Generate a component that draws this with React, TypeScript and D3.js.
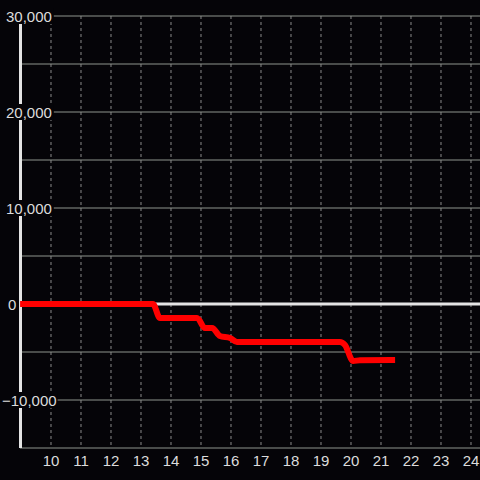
import React from "react";
import * as d3 from "d3";

const xs = [8.97, 13.4, 13.63, 14.87, 15.13, 15.37, 15.63, 15.97, 16.2, 19.63, 19.8, 20.07, 20.3, 21.47];
const values = [0, 0, -1460, -1460, -2500, -2500, -3330, -3540, -3960, -3960, -4270, -5940, -5850, -5830];
const xTicks = [10, 11, 12, 13, 14, 15, 16, 17, 18, 19, 20, 21, 22, 23, 24];
const yGrid = [30000, 25000, 20000, 15000, 10000, 5000, -5000, -10000, -15000];
const yLabels = [30000, 20000, 10000, 0, -10000];

const W = 480, H = 480;
const FONT = "'Liberation Sans', Arial, sans-serif";

export default function App() {
  const x = d3.scaleLinear().domain([8.9667, 24.3]).range([20, 480]);
  const y = d3.scaleLinear().domain([-15000, 30000]).range([448, 16]);
  const line = d3
    .line<number>()
    .x((_, i) => x(xs[i]))
    .y((d) => y(d))
    .curve(d3.curveMonotoneX);
  const fmt = d3.format(",");
  return (
    <svg
      width={W}
      height={H}
      style={{ position: "absolute", left: 0, top: 0, background: "#050408" }}
    >
      <rect x={0} y={0} width={W} height={H} fill="#050408" />
      {xTicks.map((t) => (
        <line
          key={"vx" + t}
          x1={x(t)}
          x2={x(t)}
          y1={16}
          y2={448}
          stroke="#8a8a8a"
          strokeWidth={1}
          strokeDasharray="3,3"
        />
      ))}
      {yGrid.map((v) => (
        <line
          key={"hy" + v}
          x1={20}
          x2={480}
          y1={y(v)}
          y2={y(v)}
          stroke="#8f948d"
          strokeWidth={1}
        />
      ))}
      <line x1={20} x2={480} y1={y(0)} y2={y(0)} stroke="#e4e4e4" strokeWidth={3} />
      <line x1={20.5} x2={20.5} y1={16} y2={448} stroke="#e4e4e4" strokeWidth={3} />
      <path d={line(values) || ""} fill="none" stroke="#ff0000" strokeWidth={6} strokeLinejoin="round" />
      {yLabels.map((v) => {
        const tx = v < 0 ? 2 : v === 0 ? 8 : 6;
        const label = fmt(v);
        const w = label.length * 7.8;
        return (
          <g key={"yl" + v}>
            <rect x={tx - 1} y={y(v) - 8} width={w + 2} height={16} fill="#050408" />
            <text
              x={tx}
              y={y(v) + 5.5}
              fill="#dcdcdc"
              fontSize={15}
              fontFamily={FONT}
            >
              {label}
            </text>
          </g>
        );
      })}
      {xTicks.map((t) => (
        <text
          key={"xl" + t}
          x={x(t)}
          y={466}
          textAnchor="middle"
          fill="#dcdcdc"
          fontSize={15}
          fontFamily={FONT}
        >
          {t}
        </text>
      ))}
    </svg>
  );
}
